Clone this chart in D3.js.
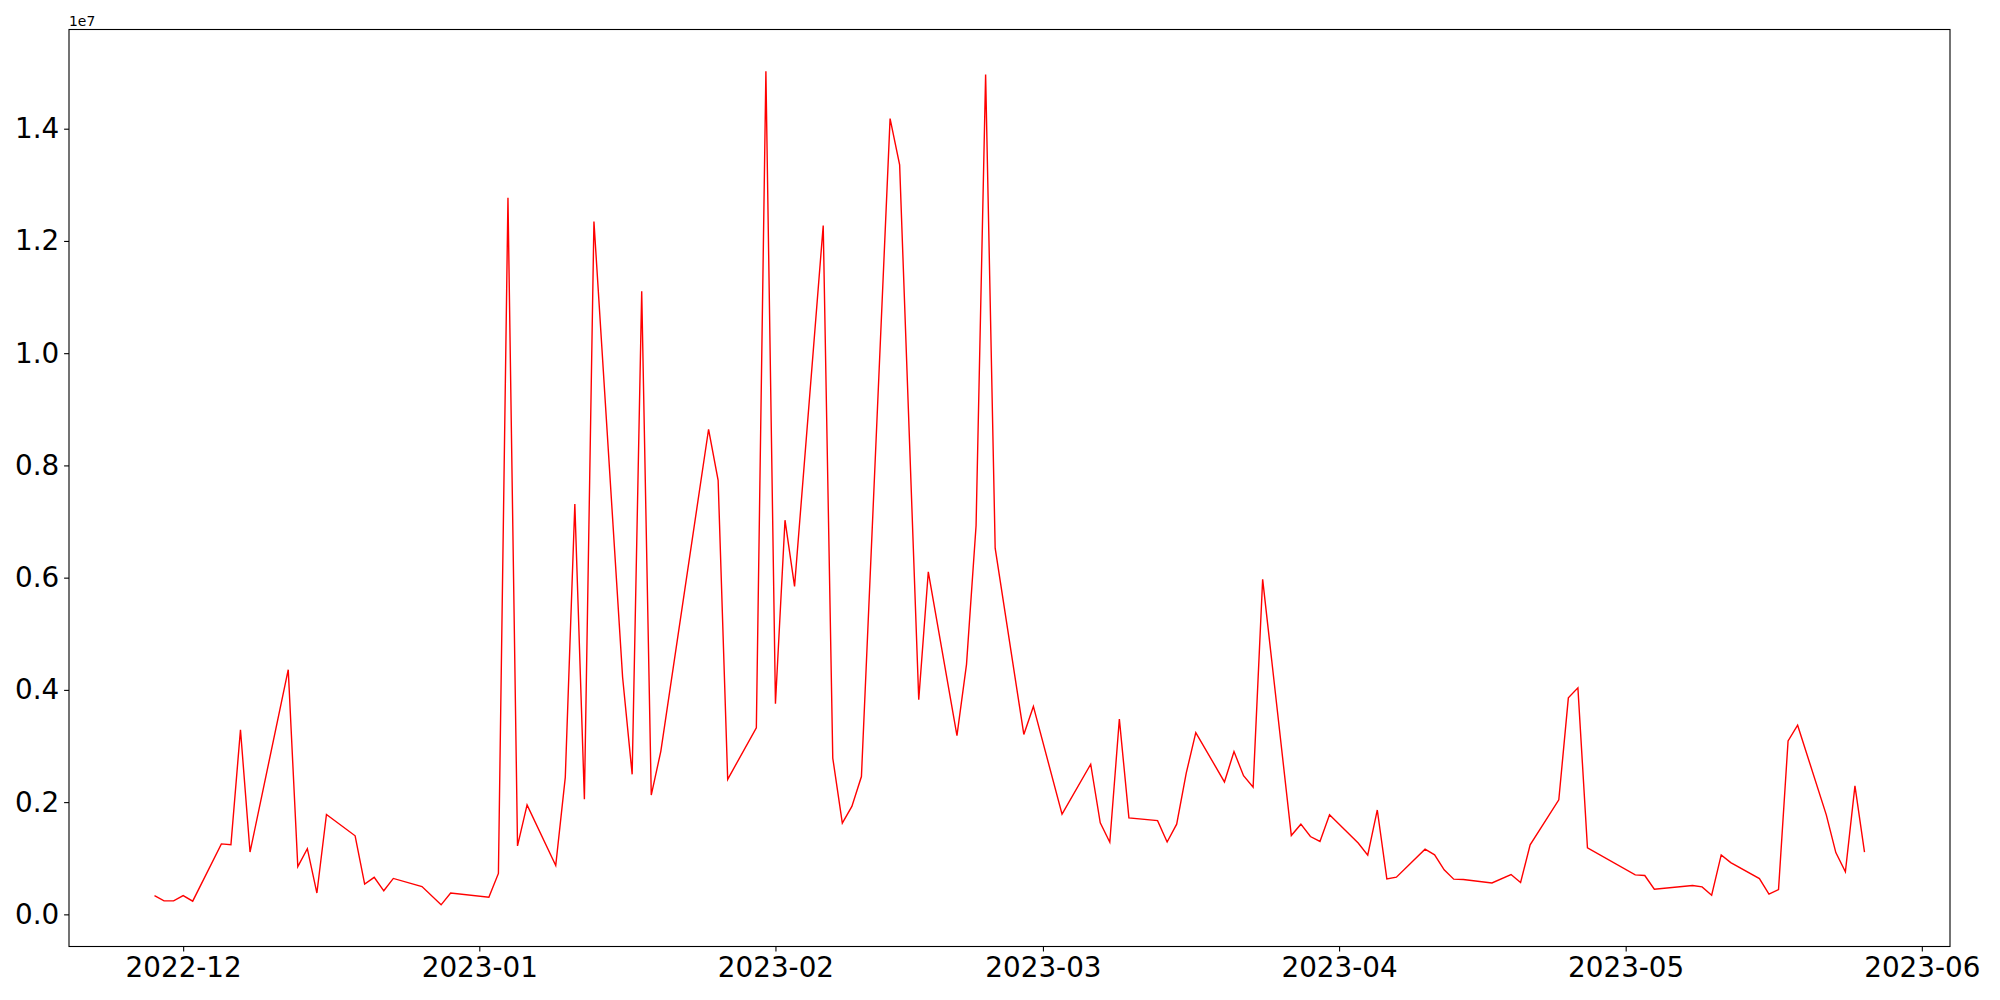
<!DOCTYPE html>
<html>
<head>
<meta charset="utf-8">
<script src="https://cdn.jsdelivr.net/npm/d3@7"></script>
<style>
  body { margin: 0; background: #fff; }
  text { font-family: "DejaVu Sans", sans-serif; }
</style>
</head>
<body>
<div id="chart"></div>
<script>
// dates and values
let dates = [
  "2022-11-28","2022-11-29","2022-11-30","2022-12-01","2022-12-02",
  "2022-12-05","2022-12-06","2022-12-07","2022-12-08","2022-12-12",
  "2022-12-13","2022-12-14","2022-12-15","2022-12-16","2022-12-19",
  "2022-12-20","2022-12-21","2022-12-22","2022-12-23","2022-12-26",
  "2022-12-28","2022-12-29","2023-01-02","2023-01-03","2023-01-04",
  "2023-01-05","2023-01-06","2023-01-09","2023-01-10","2023-01-11",
  "2023-01-12","2023-01-13","2023-01-16","2023-01-17","2023-01-18",
  "2023-01-19","2023-01-20","2023-01-25","2023-01-26","2023-01-27",
  "2023-01-30","2023-01-31","2023-02-01","2023-02-02","2023-02-03",
  "2023-02-06","2023-02-07","2023-02-08","2023-02-09","2023-02-10",
  "2023-02-13","2023-02-14","2023-02-16","2023-02-17","2023-02-20",
  "2023-02-21","2023-02-22","2023-02-23","2023-02-24","2023-02-27",
  "2023-02-28","2023-03-03","2023-03-06","2023-03-07","2023-03-08",
  "2023-03-09","2023-03-10","2023-03-13","2023-03-14","2023-03-15",
  "2023-03-16","2023-03-17","2023-03-20","2023-03-21","2023-03-22",
  "2023-03-23","2023-03-24","2023-03-27","2023-03-28","2023-03-29",
  "2023-03-30","2023-03-31","2023-04-03","2023-04-04","2023-04-05",
  "2023-04-06","2023-04-07","2023-04-10","2023-04-11","2023-04-12",
  "2023-04-13","2023-04-14","2023-04-17","2023-04-19","2023-04-20",
  "2023-04-21","2023-04-24","2023-04-25","2023-04-26","2023-04-27",
  "2023-05-02","2023-05-03","2023-05-04","2023-05-08","2023-05-09",
  "2023-05-10","2023-05-11","2023-05-12","2023-05-15","2023-05-16",
  "2023-05-17","2023-05-18","2023-05-19","2023-05-22","2023-05-23",
  "2023-05-24","2023-05-25","2023-05-26"
]

let values = [
  335000, 240000, 240000, 335000, 235000,
  1256000, 1240000, 3290000, 1110000, 4360000,
  850000, 1170000, 380000, 1780000, 1400000,
  540000, 660000, 420000, 640000, 496000,
  170000, 380000, 306000, 730000, 12770000,
  1220000, 1950000, 870000, 2440000, 7310000,
  2050000, 12345000, 4225000, 2495000, 11105000,
  2126000, 2905000, 8644000, 7735000, 2406000,
  3325000, 15025000, 3754000, 7024000, 5845000,
  12276000, 2785000, 1625000, 1924000, 2455000,
  14180000, 13355000, 3826000, 6105000, 3186000,
  4455000, 6925000, 14965000, 6525000, 3206000,
  3705000, 1786000, 2675000, 1630000, 1285000,
  3480000, 1720000, 1670000, 1290000, 1607000,
  2516000, 3240000, 2360000, 2900000, 2470000,
  2266000, 5970000, 1405000, 1607000, 1387000,
  1300000, 1773000, 1270000, 1055000, 1860000,
  633000, 663000, 1162000, 1060000, 793000,
  627000, 620000, 560000, 709000, 567000,
  1238000, 2040000, 3858000, 4036000, 1185000,
  704000, 692000, 449000, 514000, 490000,
  342000, 1060000, 923000, 638000, 360000,
  442000, 3090000, 3370000, 1773000, 1100000,
  757000, 2290000, 1108000
]

let yTicks = [0, 2e6, 4e6, 6e6, 8e6, 10e6, 12e6, 14e6]
let xTickLabels = ["2022-12","2023-01","2023-02","2023-03","2023-04","2023-05","2023-06"]

function draw() {
  let W = 2000, H = 1000
  let margin = {top: 29.5, right: 50, bottom: 53.5, left: 69}
  let width = W - margin.left - margin.right
  let height = H - margin.top - margin.bottom

  let parse = d3.timeParse("%Y-%m-%d")
  let data = dates.map((d, i) => ({date: parse(d), v: values[i]}))

  // matplotlib style 5% margins on both axes
  let xExt = d3.extent(data, d => +d.date)
  let xPad = (xExt[1] - xExt[0]) * 0.05
  let yExt = d3.extent(data, d => d.v)
  let yPad = (yExt[1] - yExt[0]) * 0.05

  let x = d3.scaleTime()
    .domain([new Date(xExt[0] - xPad), new Date(xExt[1] + xPad)])
    .range([0, width])
  let y = d3.scaleLinear()
    .domain([yExt[0] - yPad, yExt[1] + yPad])
    .range([height, 0])

  let svg = d3.select("#chart").append("svg")
    .attr("width", W)
    .attr("height", H)
  let g = svg.append("g")
    .attr("transform", "translate(" + margin.left + "," + margin.top + ")")

  let parseMonth = d3.timeParse("%Y-%m")
  let xAxis = d3.axisBottom(x)
    .tickValues(xTickLabels.map(parseMonth))
    .tickFormat(d3.timeFormat("%Y-%m"))
    .tickSize(4.9)
    .tickPadding(4.9)
  let yAxis = d3.axisLeft(y)
    .tickValues(yTicks)
    .tickFormat(d => (d / 1e7).toFixed(1))
    .tickSize(4.9)
    .tickPadding(4.9)

  let gx = g.append("g")
    .attr("transform", "translate(0," + height + ")")
    .call(xAxis)
  let gy = g.append("g").call(yAxis)

  ;[gx, gy].forEach(a => {
    a.select(".domain").remove()
    a.selectAll(".tick line").attr("stroke", "#000").attr("stroke-width", 1.1)
    a.selectAll(".tick text")
      .attr("fill", "#000")
      .style("font-size", "27.8px")
      .style("font-family", "'DejaVu Sans'")
  })
  gx.selectAll(".tick text").attr("dy", "0.76em")

  // the line
  let line = d3.line()
    .x(d => x(d.date))
    .y(d => y(d.v))
  g.append("path")
    .datum(data)
    .attr("fill", "none")
    .attr("stroke", "#ff0000")
    .attr("stroke-width", 1.4)
    .attr("stroke-linejoin", "miter")
    .attr("d", line)

  // frame
  g.append("rect")
    .attr("width", width)
    .attr("height", height)
    .attr("fill", "none")
    .attr("stroke", "#000")
    .attr("stroke-width", 1.1)

  // offset text
  g.append("text")
    .attr("x", 0)
    .attr("y", -4)
    .style("font-size", "13.9px")
    .text("1e7")
}

draw()
</script>
</body>
</html>
